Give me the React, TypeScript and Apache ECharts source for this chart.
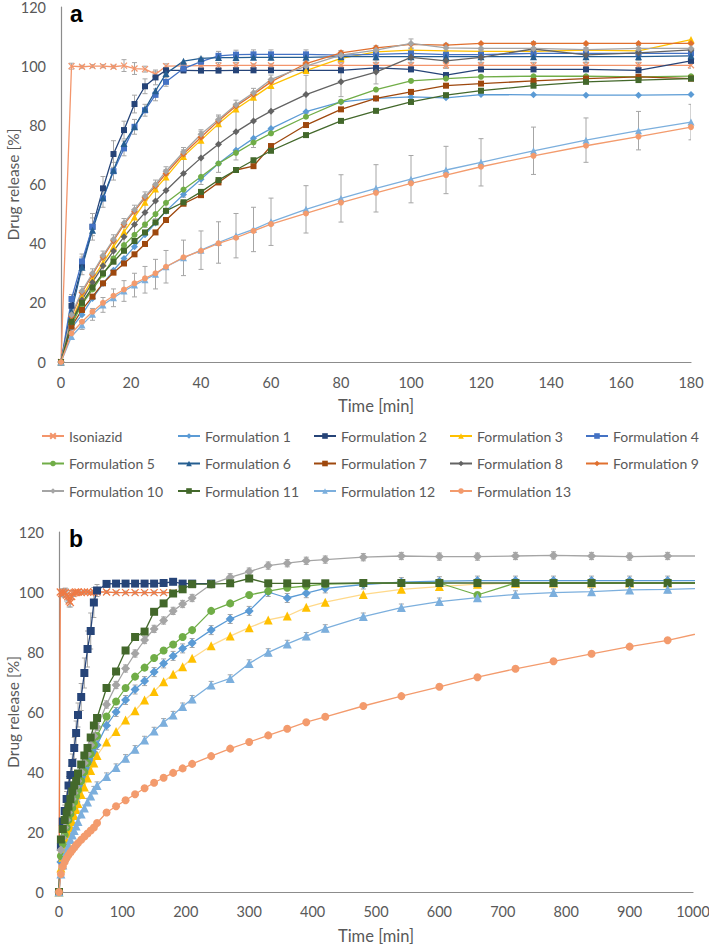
import React, { useEffect, useRef } from "react";
import * as echarts from "echarts";

const NAMES = [
  "Isoniazid", "Formulation 1", "Formulation 2", "Formulation 3", "Formulation 4",
  "Formulation 5", "Formulation 6", "Formulation 7", "Formulation 8", "Formulation 9",
  "Formulation 10", "Formulation 11", "Formulation 12", "Formulation 13",
];

// ---------- Panel a ----------
const TIME_A = [0, 3, 6, 9, 12, 15, 18, 21, 24, 27, 30, 35, 40, 45, 50, 55, 60, 70, 80, 90, 100, 110, 120, 135, 150, 165, 180];
const ISO_A = [0, 100, 99.8, 100, 100, 99.8, 100.2, 99.2, 99, 97.3, 100, 100.1, 100.2, 100.2, 100.3, 100.3, 100.3, 100.3, 100.3, 100.3, 100.3, 100.3, 100.3, 100.3, 100.3, 100.3, 100.3];
const F1_A = [0, 11.5, 16, 21.5, 26.5, 31, 35, 39, 43, 47, 51, 56.6, 61.8, 67.1, 71.6, 75.6, 78.9, 84.6, 87.9, 89.1, 89.6, 89.3, 90.4, 90.3, 90.2, 90.2, 90.4];
const F2_A = [0, 19, 32.5, 45.7, 58.7, 70.3, 78.4, 87.2, 93.2, 96.2, 98.6, 98.6, 98.5, 98.5, 98.6, 98.6, 98.6, 98.6, 98.6, 99.4, 98.9, 97, 98.9, 98.9, 98.9, 98.6, 101.8];
const F3_A = [0, 14, 22, 28, 33.5, 39, 44, 49, 54, 58.5, 62.5, 69.5, 75, 80.5, 85.5, 89.5, 93.5, 98.5, 102.6, 104.8, 105.4, 105.2, 105, 105, 105.4, 105.2, 109];
const F4_A = [0, 21.3, 34, 45.7, 55.3, 64.5, 72.2, 79.5, 85.1, 90.3, 94.7, 99.2, 101.5, 103.5, 103.9, 104, 104, 104, 103.7, 104, 104.3, 103.9, 103.9, 104.3, 104.3, 104.3, 104.3];
const F5_A = [0, 12.5, 19.5, 24.5, 29.5, 35, 39.5, 43, 46.5, 50, 53.8, 58.3, 62.6, 67.1, 70.7, 74.2, 77.3, 82.9, 88, 92.1, 95, 95.8, 96.4, 96.6, 96.6, 96.4, 96.6];
const F6_A = [0, 17, 32, 44.5, 55.5, 64.8, 73.9, 79.5, 85.5, 91.7, 97.5, 101.7, 102.6, 102.9, 102.9, 103, 103, 103, 103.2, 103.2, 103.2, 103.2, 103.2, 103.2, 103.2, 103.2, 103.5];
const F7_A = [0, 12, 17.6, 22.1, 26.6, 30.2, 33.3, 36.4, 39.9, 43.8, 48, 53.5, 56.4, 60.7, 64.9, 66.2, 73, 80.1, 85.4, 89.1, 91.3, 93.4, 94.1, 95, 95.8, 96.4, 95.8];
const F8_A = [0, 13.5, 21, 27, 32.5, 37.5, 42.3, 46.5, 50.5, 54.4, 58, 63.7, 69, 73.6, 77.8, 81.5, 84.8, 90.4, 94.7, 98, 103, 101.8, 103, 105.8, 103.8, 104.5, 105.5];
const F9_A = [0, 15.5, 23.5, 29.5, 35.5, 41, 46.5, 51, 55.5, 59.5, 63.7, 70.3, 76, 81.5, 86.5, 90.5, 94.7, 100.9, 104.5, 106.2, 107.4, 107.1, 107.7, 107.7, 107.7, 107.7, 107.7];
const F10_A = [0, 16, 24, 30, 36, 41.5, 47, 51.5, 56, 60, 64.5, 71, 77, 82, 87, 91, 95.5, 100, 103.7, 105.4, 107.7, 106.2, 106, 106, 105.6, 106, 106];
const F11_A = [0, 13.6, 20, 25.2, 30, 33.9, 37.6, 40.9, 43.8, 47.2, 51.1, 54, 57.5, 61.5, 64.9, 68.2, 71.4, 76.7, 81.5, 84.9, 87.9, 90.2, 91.7, 93.4, 94.7, 95.3, 95.8];
const F12_A = [0, 8.6, 12.5, 16.1, 19.3, 21.7, 24, 26, 27.8, 29.7, 32.2, 35.2, 37.8, 40.4, 42.7, 44.8, 47.4, 51.6, 55.3, 58.7, 61.8, 64.9, 67.5, 71.4, 75, 78.2, 81.1];
const F13_A = [0, 9.7, 13.6, 17, 20, 22.4, 24.5, 26.6, 28.3, 30, 32.2, 35.4, 37.6, 40.1, 42, 44.3, 46.6, 50.2, 53.9, 57.2, 60.4, 63.2, 66, 69.7, 73.1, 76.2, 79.4];

const ERR_A_ISO = [0, 1, 0.5, 0.5, 0.5, 0.5, 2, 2, 1, 1, 0.8, 0.5, 1, 1, 1, 0.5, 0.5, 1, 1, 1, 1, 1, 1, 1, 1, 1, 1];
const ERR_A2 = [0, 1.5, 3, 4.5, 4, 4.5, 3, 3, 2.5, 2.5, 1, 0.5, 0.5, 0.5, 0.5, 0.5, 0.5, 0.5, 0.5, 0.5, 0.5, 0.5, 0.5, 0.5, 0.5, 0.5, 0.5];
const ERR_A4 = [0, 1.5, 2.5, 3, 3, 3, 2.5, 2.5, 2, 2, 1.5, 1.5, 1.5, 1.5, 1.5, 1.5, 1.5, 1.5, 1.5, 1.5, 1.5, 1.5, 1.5, 1.5, 1.5, 1.5, 1.5];
const ERR_A8 = [0, 1, 1.5, 2, 2.5, 3, 3.5, 4, 5, 6, 7, 8, 9, 9.5, 9.5, 9, 8, 6.5, 5, 4, 3, 2.5, 2.5, 2.5, 2.5, 2.5, 2.5];
const ERR_A10 = [0, 1, 1.5, 1.5, 1.5, 1.5, 1.5, 1.5, 1.5, 1.5, 1.5, 1.5, 1.5, 1.5, 1.5, 1.5, 1.5, 1.5, 1.5, 1.5, 1.5, 1.5, 1.5, 1.5, 1.5, 1.5, 1.5];
const ERR_A12 = [0, 1, 1.5, 2, 2.5, 3, 3.5, 4, 4.5, 5, 5.5, 6, 6.5, 7, 7.5, 7.5, 8, 8, 8, 8, 8, 8, 8, 8, 7.5, 6.5, 6];

// ---------- Panel b ----------
const TIME_B = [0, 3, 6, 9, 12, 15, 18, 21, 24, 27, 30, 35, 40, 45, 50, 55, 60, 75, 90, 105, 120, 135, 150, 165, 180, 195, 210, 240, 270, 300, 330, 360, 390, 420, 480, 540, 600, 660, 720, 780, 840, 900, 960, 1020];
const TIME_B_ISO = [0, 2, 4, 6, 8, 10, 12, 14, 16, 18, 20, 22, 24, 26, 28, 30, 35, 40, 45, 50, 55, 60, 75, 90, 105, 120, 135, 150, 165, 180];
const ISO_B = [0, 100, 99.5, 100, 99.6, 99.8, 99, 98.5, 97, 96.5, 98.5, 99.5, 99.8, 100, 99.8, 100, 99.8, 100, 100, 99.8, 100, 100, 100, 99.8, 99.8, 99.8, 99.8, 99.8, 99.8, 99.8];
const F2_B = [0, 15, 23.5, 27, 31, 35.5, 39, 43, 48, 53, 59, 65, 73, 81, 87, 96.5, 100.5, 102.7, 102.8, 102.8, 102.8, 102.8, 102.8, 103, 103.4, 102.8, 102.8, 102.8];
const F10_B = [0, 14, 18, 21.5, 24, 26.5, 29, 31, 33, 35, 37, 40, 43, 46, 49, 52, 55, 62.5, 69, 74.5, 79.5, 84, 87.7, 90.5, 93.7, 96, 98, 102.6, 104.9, 106.8, 108.8, 109.6, 110.4, 110.8, 111.6, 112, 111.8, 111.8, 112, 112.2, 112, 111.8, 112, 112];
const F11_B = [0, 17.5, 21, 24, 26.5, 28.5, 31, 33.5, 35.5, 37, 39.5, 42.5, 45.5, 48, 51.5, 55.5, 58, 68, 73.5, 80.5, 85, 86.8, 93.4, 96.2, 99.5, 100.9, 102.6, 102.6, 102.9, 104.5, 102.9, 102.9, 102.9, 102.9, 103, 103, 103, 103, 103, 103, 103, 103, 103, 103];
const F5_B = [0, 12, 16, 19, 21.5, 24, 26, 28, 30, 32, 34, 37, 40, 43, 46, 49, 52, 58.5, 63.5, 68, 71.8, 74.8, 78, 80.5, 82.5, 85, 87.3, 93.7, 96.2, 99, 100.3, 101.4, 102, 102.6, 102.9, 103, 103, 99, 103, 103, 103, 103, 103, 103];
const F1_B = [0, 10, 14, 17, 19.5, 22, 24, 26, 28, 30, 32, 35, 38, 41, 44, 46.5, 49, 55.5, 60, 64, 67.5, 70.3, 73.3, 76.2, 78.7, 81.2, 83, 87.3, 91, 93.7, 100, 98, 99.6, 101.2, 102.5, 103.3, 103.6, 103.8, 103.8, 103.8, 103.8, 103.8, 103.8, 103.8];
const F3_B = [0, 8, 11.5, 14.5, 17, 19.5, 21.5, 23.5, 25.5, 27.5, 29.5, 32.5, 35, 38, 40.5, 43, 45.5, 50, 53.5, 57.3, 60.4, 64, 66.8, 70.1, 72.6, 75.1, 77.9, 82.1, 85.3, 88.1, 90.7, 92, 94.9, 96.6, 99.2, 100.9, 101.8, 102.6, 102.9, 103, 103, 103, 103, 103];
const F12_B = [0, 6, 9, 11.5, 13.5, 15.5, 17.5, 19, 20.5, 22, 23.5, 26, 28, 30, 32, 34, 35.5, 38.5, 41.5, 44.6, 47.6, 50.7, 53.7, 56.6, 59, 61.8, 64.3, 69, 71.2, 76.2, 79.9, 82.7, 85.3, 87.9, 91.8, 94.8, 96.8, 98.1, 99.2, 99.8, 100.1, 100.7, 100.9, 101.2];
const F13_B = [0, 6, 8.5, 10, 11.3, 12.3, 13.2, 14, 14.8, 15.6, 16.3, 17.4, 18.5, 19.5, 20.5, 21.5, 23, 26.5, 28.6, 30.6, 32.6, 34.6, 36.4, 38.1, 39.7, 41.2, 42.7, 45.3, 47.8, 50, 52.2, 54.4, 56.6, 58.4, 62, 65.3, 68.4, 71.6, 74.4, 76.9, 79.4, 81.8, 83.9, 86.7];

const ERR_B_ISO = [0, 1, 1, 1, 1.5, 1.5, 2, 2, 2, 1.5, 1, 1, 0.5, 0.5, 0.5, 0.5, 0.5, 0.5, 0.5, 0.5, 0.5, 0.5, 0.5, 0.5, 0.5, 0.5, 0.5, 0.5, 0.5, 0.5];
const ERR_B2 = [0, 1, 1.5, 2, 2.5, 3, 3, 3, 3.5, 4, 4, 4.5, 5, 6, 6, 5, 2, 1, 0.5, 0.5, 0.5, 0.5, 0.5, 0.5, 0.5, 0.5, 0.5, 0.5];
const ERR_B10 = [0, 0.5, 0.8, 1, 1, 1, 1, 1, 1, 1, 1, 1, 1, 1.2, 1.2, 1.2, 1.2, 1.2, 1.2, 1.2, 1.2, 1.2, 1.2, 1.2, 1.2, 1.2, 1.2, 1.2, 1.2, 1.2, 1.2, 1.2, 1.2, 1.2, 1.2, 1.2, 1.2, 1.2, 1.2, 1.2, 1.2, 1.2, 1.2, 1.2];
const ERR_B1 = [0, 0.5, 0.8, 1, 1, 1, 1, 1, 1, 1, 1, 1.2, 1.2, 1.2, 1.5, 1.5, 1.5, 1.5, 1.5, 1.5, 1.5, 1.5, 1.5, 1.5, 1.5, 1.5, 1.5, 1.5, 1.5, 1.5, 1.5, 1.5, 1.5, 1.5, 1.5, 1.5, 1.5, 1.5, 1.5, 1.5, 1.5, 1.5, 1.5, 1.5];
const ERR_B12 = [0, 0.5, 0.8, 1, 1, 1, 1, 1, 1, 1, 1, 1, 1, 1.2, 1.2, 1.2, 1.2, 1.2, 1.2, 1.2, 1.2, 1.2, 1.2, 1.2, 1.2, 1.2, 1.2, 1.2, 1.2, 1.2, 1.2, 1.2, 1.2, 1.2, 1.2, 1.2, 1.2, 1.2, 1.2, 1.2, 1.2, 1.2, 1.2, 1.2];

const FONT = "Lato, 'Open Sans', sans-serif";
const TXT = "#595959";
const C = {
  iso: "#F3956B", f1: "#5B9BD5", f2: "#264478", f3: "#FFC000", f4: "#4472C4", f5: "#70AD47",
  f6: "#255E91", f7: "#9E480E", f8: "#636363", f9: "#E0702F", f10: "#A5A5A5", f11: "#43682B",
  f12: "#7CAFDD", f13: "#F39B6D",
};
const XSYM = "path://M0,0L10,10M10,0L0,10";

function pairs(t: number[], v: number[]) {
  return v.map((y, i) => [t[i], y]);
}

function lineSeries(name: string, panel: number, t: number[], v: number[], color: string, symbol: string, size: number, lineColor?: string) {
  const isX = symbol === XSYM;
  return {
    type: "line",
    name,
    xAxisIndex: panel,
    yAxisIndex: panel,
    data: pairs(t, v),
    symbol,
    symbolSize: size,
    showSymbol: true,
    clip: true,
    color,
    lineStyle: { color: lineColor || color, width: 1.3 },
    itemStyle: isX
      ? { color: "rgba(0,0,0,0)", borderColor: color, borderWidth: 1.2 }
      : { color, borderWidth: 0 },
    emphasis: { disabled: true },
    z: 3,
  };
}

function errSeries(id: string, panel: number, t: number[], v: number[], e: number[]) {
  return {
    type: "custom",
    name: id,
    xAxisIndex: panel,
    yAxisIndex: panel,
    silent: true,
    z: 2,
    clip: true,
    encode: { x: 0, y: 1 },
    data: v.map((y, i) => [t[i], y, e[i]]),
    renderItem: (_p: any, api: any) => {
      const x = api.value(0);
      const y = api.value(1);
      const d = api.value(2);
      if (!d) return null;
      const top = api.coord([x, y + d]);
      const bot = api.coord([x, y - d]);
      const hw = 2.5;
      const st = { stroke: "#A6A6A6", lineWidth: 1 };
      return {
        type: "group",
        children: [
          { type: "line", shape: { x1: top[0], y1: top[1], x2: bot[0], y2: bot[1] }, style: st },
          { type: "line", shape: { x1: top[0] - hw, y1: top[1], x2: top[0] + hw, y2: top[1] }, style: st },
          { type: "line", shape: { x1: bot[0] - hw, y1: bot[1], x2: bot[0] + hw, y2: bot[1] }, style: st },
        ],
      };
    },
  };
}

function xAxis(panel: number, max: number, interval: number, nameGap: number, margin: number) {
  return {
    type: "value",
    gridIndex: panel,
    min: 0,
    max,
    interval,
    name: "Time [min]",
    nameLocation: "middle",
    nameGap,
    nameMoveOverlap: false,
    nameTextStyle: { color: TXT, fontSize: 16.5, fontFamily: FONT, fontWeight: "normal" },
    axisLine: { show: true, lineStyle: { color: "#8C8C8C", width: 1.2 } },
    axisTick: { show: false },
    splitLine: { show: false },
    axisLabel: { color: TXT, fontSize: 14.5, fontFamily: FONT, margin, formatter: (v: number) => String(v) },
  };
}

function yAxis(panel: number, nameGap: number) {
  return {
    type: "value",
    gridIndex: panel,
    min: 0,
    max: 120,
    interval: 20,
    name: "Drug release [%]",
    nameLocation: "middle",
    nameGap,
    nameMoveOverlap: false,
    nameRotate: 90,
    nameTextStyle: { color: TXT, fontSize: 15.5, fontFamily: FONT, fontWeight: "normal" },
    axisLine: { show: true, lineStyle: { color: "#8C8C8C", width: 1.2 } },
    axisTick: { show: false },
    splitLine: { show: false },
    axisLabel: { color: TXT, fontSize: 14.5, fontFamily: FONT, margin: 15, formatter: (v: number) => String(v) },
  };
}

export default function App() {
  const ref = useRef<HTMLDivElement>(null);

  useEffect(() => {
    document.body.style.margin = "0";
    if (!ref.current) return;
    const chart = echarts.init(ref.current, undefined, { renderer: "svg" });

    const SA = 6;
    const SB = 8;
    const series: any[] = [
      errSeries("eA-iso", 0, TIME_A, ISO_A, ERR_A_ISO),
      errSeries("eA-2", 0, TIME_A, F2_A, ERR_A2),
      errSeries("eA-4", 0, TIME_A, F4_A, ERR_A4),
      errSeries("eA-8", 0, TIME_A, F8_A, ERR_A8),
      errSeries("eA-10", 0, TIME_A, F10_A, ERR_A10),
      errSeries("eA-12", 0, TIME_A, F12_A, ERR_A12),
      lineSeries(NAMES[0], 0, TIME_A, ISO_A, C.iso, XSYM, SA),
      lineSeries(NAMES[1], 0, TIME_A, F1_A, C.f1, "diamond", SA + 1),
      lineSeries(NAMES[2], 0, TIME_A, F2_A, C.f2, "rect", SA),
      lineSeries(NAMES[3], 0, TIME_A, F3_A, C.f3, "triangle", SA + 1),
      lineSeries(NAMES[4], 0, TIME_A, F4_A, C.f4, "rect", SA),
      lineSeries(NAMES[5], 0, TIME_A, F5_A, C.f5, "circle", SA),
      lineSeries(NAMES[6], 0, TIME_A, F6_A, C.f6, "triangle", SA + 1),
      lineSeries(NAMES[7], 0, TIME_A, F7_A, C.f7, "rect", SA),
      lineSeries(NAMES[8], 0, TIME_A, F8_A, C.f8, "diamond", SA + 1),
      lineSeries(NAMES[9], 0, TIME_A, F9_A, C.f9, "diamond", SA + 1),
      lineSeries(NAMES[10], 0, TIME_A, F10_A, C.f10, "diamond", SA + 1),
      lineSeries(NAMES[11], 0, TIME_A, F11_A, C.f11, "rect", SA),
      lineSeries(NAMES[12], 0, TIME_A, F12_A, C.f12, "triangle", SA + 1),
      lineSeries(NAMES[13], 0, TIME_A, F13_A, C.f13, "circle", SA),
      errSeries("eB-iso", 1, TIME_B_ISO, ISO_B, ERR_B_ISO),
      errSeries("eB-2", 1, TIME_B, F2_B, ERR_B2),
      errSeries("eB-10", 1, TIME_B, F10_B, ERR_B10),
      errSeries("eB-1", 1, TIME_B, F1_B, ERR_B1),
      errSeries("eB-12", 1, TIME_B, F12_B, ERR_B12),
      lineSeries(NAMES[0], 1, TIME_B_ISO, ISO_B, "#EE7A45", XSYM, SB - 1),
      lineSeries(NAMES[1], 1, TIME_B, F1_B, C.f1, "diamond", SB + 1),
      lineSeries(NAMES[2], 1, TIME_B, F2_B, C.f2, "rect", SB),
      lineSeries(NAMES[3], 1, TIME_B, F3_B, C.f3, "triangle", SB + 1, "#FFD98A"),
      lineSeries(NAMES[5], 1, TIME_B, F5_B, C.f5, "circle", SB),
      lineSeries(NAMES[10], 1, TIME_B, F10_B, C.f10, "diamond", SB + 1),
      lineSeries(NAMES[11], 1, TIME_B, F11_B, C.f11, "rect", SB),
      lineSeries(NAMES[12], 1, TIME_B, F12_B, C.f12, "triangle", SB + 1),
      lineSeries(NAMES[13], 1, TIME_B, F13_B, C.f13, "circle", SB),
    ];

    const legends = NAMES.map((n, i) => {
      const row = Math.floor(i / 5);
      const col = i % 5;
      return {
        data: [n],
        left: 41 + col * 136,
        top: 429 + row * 27.5,
        padding: 0,
        itemWidth: 22,
        itemHeight: 7,
        itemGap: 0,
        selectedMode: false,
        textStyle: { color: TXT, fontSize: 14, fontFamily: FONT },
      };
    });

    chart.setOption({
      animation: false,
      backgroundColor: "#ffffff",
      grid: [
        { left: 61, right: 18, top: 7, bottom: 584, containLabel: false, outerBoundsMode: "none" },
        { left: 59, right: 16, top: 532, bottom: 54, containLabel: false, outerBoundsMode: "none" },
      ],
      xAxis: [xAxis(0, 180, 20, 35, 13), xAxis(1, 1000, 100, 35, 12)],
      yAxis: [yAxis(0, 40), yAxis(1, 38)],
      legend: legends,
      graphic: [
        { type: "text", left: 70, top: 2, style: { text: "a", fontFamily: "Liberation Sans", fontWeight: "bold", fontSize: 23, fill: "#000" } },
        { type: "text", left: 69, top: 527, style: { text: "b", fontFamily: "Liberation Sans", fontWeight: "bold", fontSize: 23, fill: "#000" } },
      ],
      series,
    });

    return () => chart.dispose();
  }, []);

  return <div ref={ref} style={{ width: 709, height: 946 }} />;
}
